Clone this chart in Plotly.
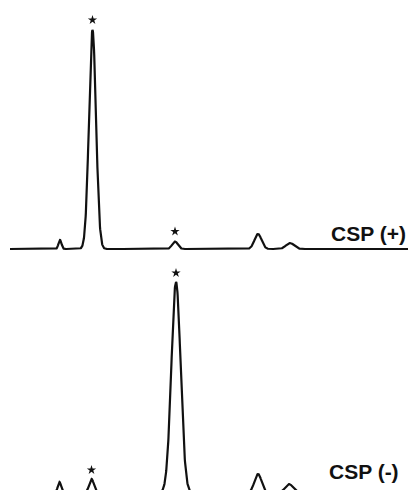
import numpy as np
import plotly.graph_objects as go

# Peak tables (retention position, height, width sigma)
plus_rt = [60, 92.5, 175, 258, 290]
plus_height = [9, 219, 7.5, 15, 6]
plus_sigma = [1.5, 3.5, 2.8, 3.5, 4.0]
plus_starred = [1, 2]

minus_rt = [59.5, 91.5, 176, 258, 289]
minus_height = [11, 14, 211, 19, 9]
minus_sigma = [1.7, 2.4, 4.6, 3.6, 4.0]
minus_starred = [1, 2]

labels = ["CSP (+)", "CSP (-)"]

t = np.linspace(10, 408, 2000)


def trace_from_peaks(rts, hs, ss):
    y = np.zeros_like(t)
    for r, h, s in zip(rts, hs, ss):
        y += h * np.exp(-0.5 * ((t - r) / s) ** 2)
    return y


fig = go.Figure()
line = dict(color="#111111", width=2.2)

fig.add_trace(go.Scatter(x=t, y=trace_from_peaks(plus_rt, plus_height, plus_sigma),
                         mode="lines", line=line, xaxis="x", yaxis="y", hoverinfo="skip"))
fig.add_trace(go.Scatter(x=t, y=trace_from_peaks(minus_rt, minus_height, minus_sigma),
                         mode="lines", line=line, xaxis="x", yaxis="y2", hoverinfo="skip"))

star_off = 10
fig.add_trace(go.Scatter(x=[plus_rt[i] for i in plus_starred],
                         y=[plus_height[i] + star_off for i in plus_starred],
                         mode="markers", marker=dict(symbol="star", size=7, color="#111111"),
                         xaxis="x", yaxis="y"))
fig.add_trace(go.Scatter(x=[minus_rt[i] for i in minus_starred],
                         y=[minus_height[i] + star_off - 1 for i in minus_starred],
                         mode="markers", marker=dict(symbol="star", size=7, color="#111111"),
                         xaxis="x", yaxis="y2"))

fig.add_annotation(x=408, y=16, xref="x", yref="y", text="<b>%s</b>" % labels[0],
                   showarrow=False, xanchor="right", yanchor="middle",
                   font=dict(family="Liberation Sans, Arial", size=21, color="#111111"))
fig.add_annotation(x=401, y=22, xref="x", yref="y2", text="<b>%s</b>" % labels[1],
                   showarrow=False, xanchor="right", yanchor="middle",
                   font=dict(family="Liberation Sans, Arial", size=21, color="#111111"))

fig.update_layout(
    width=408, height=490,
    margin=dict(l=0, r=0, t=0, b=0),
    paper_bgcolor="white", plot_bgcolor="white",
    showlegend=False,
    xaxis=dict(range=[0, 408], visible=False),
    yaxis=dict(domain=[235 / 490, 1], range=[-6, 249], visible=False),
    yaxis2=dict(domain=[0, 235 / 490], range=[3, 238], visible=False),
)

fig.write_html("out.html")
